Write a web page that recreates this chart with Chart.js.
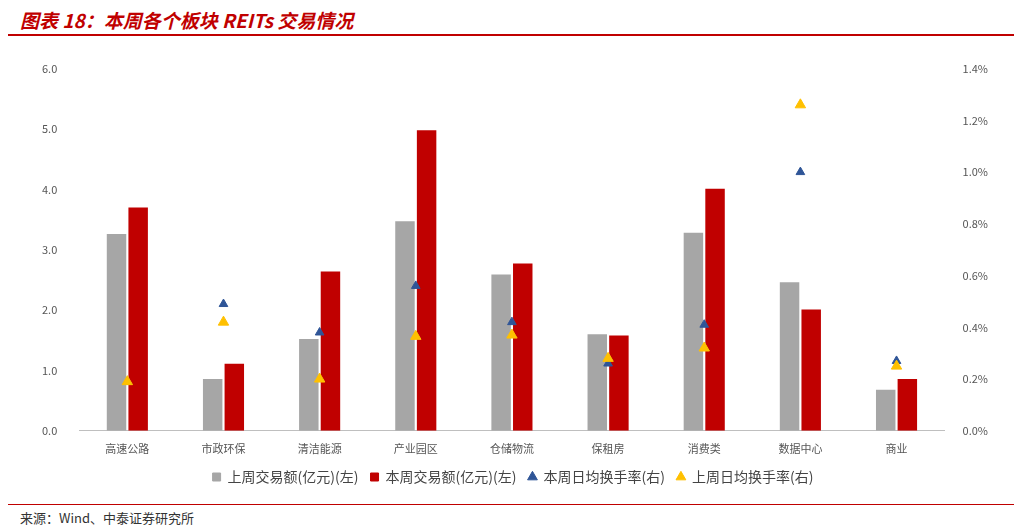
<!DOCTYPE html>
<html><head><meta charset="utf-8">
<script src="https://cdn.jsdelivr.net/npm/chart.js@4"></script>
<style>
body{margin:0;width:1022px;height:532px;background:#fff;font-family:"Noto Sans CJK SC",sans-serif;position:relative;overflow:hidden}
#title{position:absolute;left:20px;top:6px;font-size:19px;font-weight:bold;font-style:italic;color:#c00000}
#topline{position:absolute;left:8px;right:8px;top:34px;border-top:2px solid #c00000}
#botline{position:absolute;left:8px;right:8px;top:504px;border-top:1px solid #c00000}
#src{position:absolute;left:20px;top:508px;font-size:13px;color:#333}
#wrap{position:absolute;left:18px;top:48px;width:990px;height:446px}
</style></head><body>
<div id="title">图表 18：本周各个板块 REITs 交易情况</div>
<div id="topline"></div>
<div id="wrap"><canvas id="c"></canvas></div>
<div id="botline"></div>
<div id="src">来源：Wind、中泰证券研究所</div>
<script>
const categories = ['高速公路','市政环保','清洁能源','产业园区','仓储物流','保租房','消费类','数据中心','商业'];
const lastWeekAmt = [3.26,0.86,1.52,3.47,2.59,1.60,3.28,2.46,0.68];
const thisWeekAmt = [3.70,1.11,2.64,4.98,2.77,1.58,4.01,2.01,0.86];
const thisWeekTurn = [0.19,0.49,0.38,0.56,0.42,0.26,0.41,1.00,0.27];
const lastWeekTurn = [0.19,0.42,0.20,0.365,0.37,0.28,0.32,1.26,0.25];
const font = {family:'"Noto Sans CJK SC",sans-serif', size:11};
new Chart(document.getElementById('c'), {
  type:'bar',
  data:{labels:categories, datasets:[
    {label:'上周交易额(亿元)(左)', data:lastWeekAmt, backgroundColor:'#a6a6a6', yAxisID:'y', order:3, barPercentage:0.9, categoryPercentage:0.45},
    {label:'本周交易额(亿元)(左)', data:thisWeekAmt, backgroundColor:'#c00000', yAxisID:'y', order:3, barPercentage:0.9, categoryPercentage:0.45},
    {label:'本周日均换手率(右)', type:'line', data:thisWeekTurn, showLine:false, pointStyle:'triangle', pointRadius:5, backgroundColor:'#2f5597', borderColor:'#2f5597', yAxisID:'y1', order:2},
    {label:'上周日均换手率(右)', type:'line', data:lastWeekTurn, showLine:false, pointStyle:'triangle', pointRadius:6, backgroundColor:'#ffc000', borderColor:'#ffc000', yAxisID:'y1', order:1}
  ]},
  options:{responsive:true, maintainAspectRatio:false, animation:false,
    layout:{padding:{left:10,right:10,top:4}},
    plugins:{legend:{position:'bottom', labels:{usePointStyle:true, font:{...font,size:14}, color:'#444', boxWidth:8, boxHeight:8, padding:12,
      generateLabels(chart){
        return chart.data.datasets.map((d,i)=>({text:d.label, fillStyle:d.backgroundColor, strokeStyle:d.backgroundColor, pointStyle:i<2?'rect':'triangle', datasetIndex:i, fontColor:'#444'}));
      }}}, tooltip:{enabled:false}},
    scales:{
      x:{grid:{display:false}, border:{color:'#bfbfbf'}, ticks:{font, color:'#555'}},
      y:{min:0,max:6, ticks:{stepSize:1, font, color:'#555', padding:14, callback:v=>v.toFixed(1)}, grid:{display:false}, border:{display:false}},
      y1:{position:'right', min:0,max:1.4, ticks:{stepSize:0.2, font, color:'#555', padding:10, callback:v=>v.toFixed(1)+'%'}, grid:{display:false}, border:{display:false}}
    }}
});
</script></body></html>
